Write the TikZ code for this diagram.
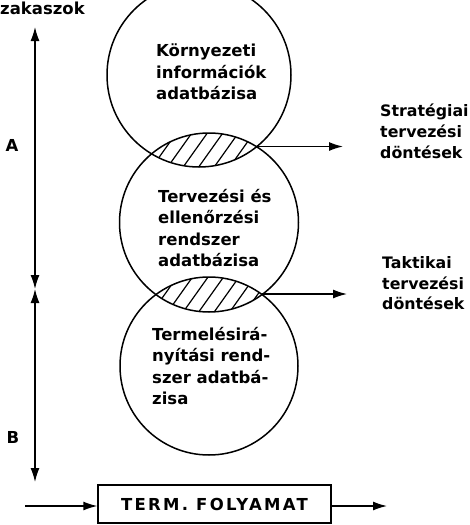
\documentclass[tikz,border=0pt]{standalone}
\usepackage{fontspec}
\setmainfont{DejaVu Sans}
\newfontfamily\spaced[LetterSpace=14]{DejaVu Sans}
\usetikzlibrary{arrows.meta}
\tikzset{
  x=1pt, y=-1pt,
  dbcircle/.style={draw, circle, inner sep=0pt, line width=1.5pt},
  lbl/.style={font=\bfseries\fontsize{16.5}{21.5}\selectfont, align=left, anchor=north west, inner sep=0pt},
  rlbl/.style={lbl, font=\bfseries\fontsize{15.8}{20.8}\selectfont},
  hatch/.style={line width=1.2pt},
  tip/.style={Latex[length=14pt,width=9pt]},
  arr/.style={line width=1.4pt, -{Latex[length=14pt,width=9pt]}},
  darr/.style={line width=1.4pt, {Latex[length=14pt,width=9pt]}-{Latex[length=14pt,width=9pt]}},
}
\begin{document}
\begin{tikzpicture}
\useasboundingbox (0,0) rectangle (470,525);
\clip (0,0) rectangle (470,525);
% circles
\node[dbcircle, minimum size=184pt] (c1) at (199,75) {};
\node[dbcircle, minimum size=179pt] (c2) at (209,222.5) {};
\node[dbcircle, minimum size=178pt] (c3) at (209,366) {};
% hatching of lens 1
\begin{scope}
  \clip (199,75) circle (92);
  \clip (209,222.5) circle (89.5);
  \foreach \x in {100,115.5,...,290} \draw[hatch] (\x,175) -- ++(32,-45);
\end{scope}
% hatching of lens 2
\begin{scope}
  \clip (209,222.5) circle (89.5);
  \clip (209,366) circle (89);
  \foreach \x in {100,115.5,...,300} \draw[hatch] (\x,320) -- ++(32,-45);
\end{scope}
% circle texts
\node[lbl] (t1) at (156,44) {Környezeti\\információk\\adatbázisa};
\node[lbl] (t2) at (158,189) {Tervezési és\\ellenőrzési\\rendszer\\adatbázisa};
\node[lbl] (t3) at (152,327) {Termelésirá-\\nyítási rend-\\szer adatbá-\\zisa};
% output arrows
\coordinate (i1) at (256.7,146.5);
\coordinate (i2) at (262,294);
\coordinate (e1) at (343,146.5);
\coordinate (e2) at (347,294);
\draw[arr] (i1) -- (e1);
\draw[arr] (i2) -- (e2);
\node[rlbl] (s1) at (380,104) {Stratégiai\\tervezési\\döntések};
\node[rlbl] (s2) at (382,256) {Taktikai\\tervezési\\döntések};
% left axis
\node[lbl] (zk) at (0,2) {zakaszok};
\coordinate (vtop) at (35,27);
\coordinate (vmid) at (35,289);
\coordinate (vbot) at (35,482);
\draw[darr] (vmid) -- (vtop);
\draw[darr] (vmid) -- (vbot);
\node[font=\bfseries\fontsize{16.5}{20}\selectfont, inner sep=0pt] (A) at (12,145) {A};
\node[font=\bfseries\fontsize{16.5}{20}\selectfont, inner sep=0pt] (B) at (13,437) {B};
% process box
\node[draw, line width=1.4pt, minimum width=233pt, minimum height=38pt, inner sep=0pt,
      font=\spaced\bfseries\fontsize{16.5}{20}\selectfont] (box) at (214.5,504) {TERM. FOLYAMAT};
\coordinate (in) at (25,506);
\coordinate (out) at (387,506);
\draw[arr] (in) -- (box.west |- in);
\draw[arr] (box.east |- out) -- (out);
\end{tikzpicture}
\end{document}
